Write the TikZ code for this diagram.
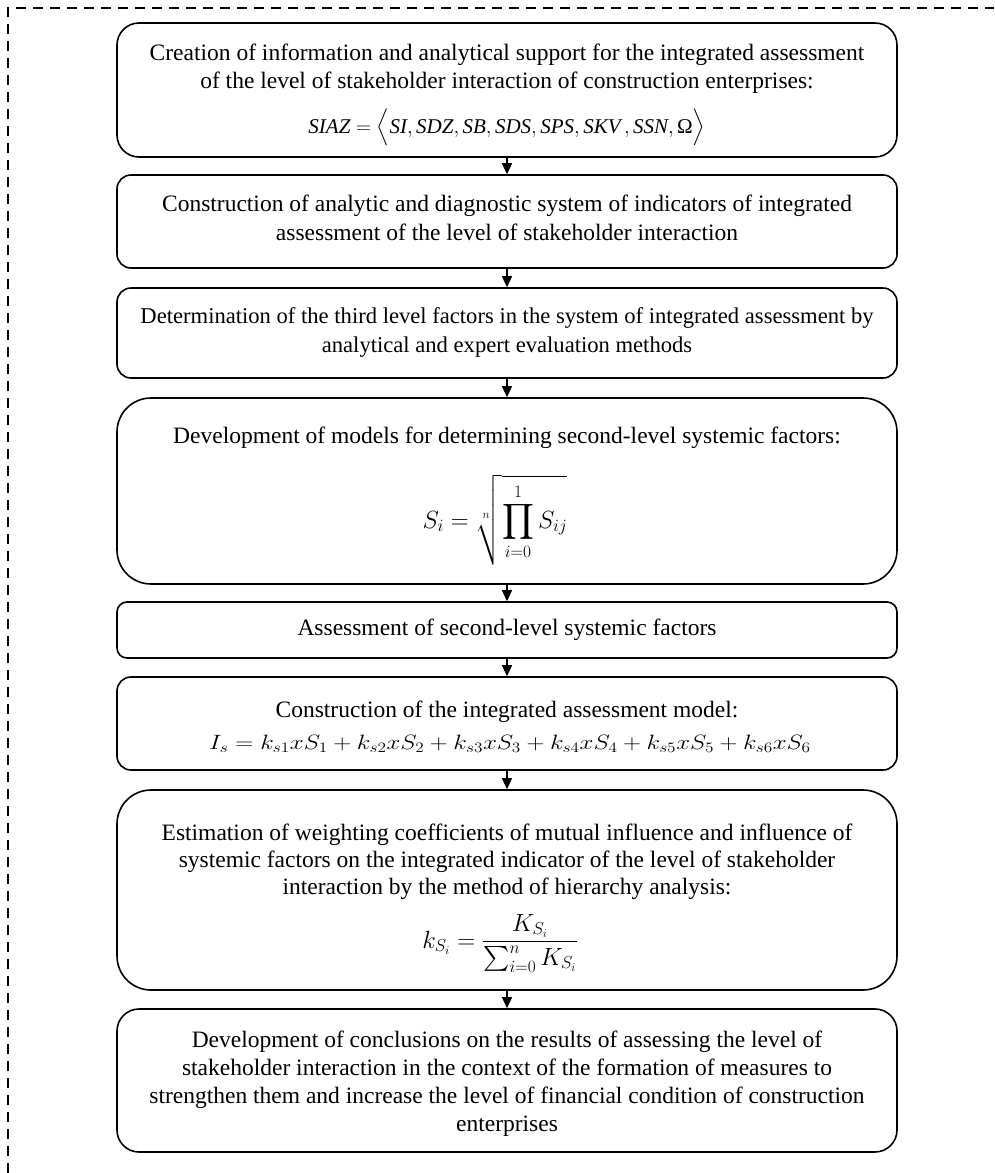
\documentclass[tikz,border=0pt]{standalone}
\usepackage{amsmath}
\usepackage{graphicx}
\usepackage{fontspec}
\setmainfont{Liberation Serif}
\usetikzlibrary{arrows.meta}
\begin{document}
\begin{tikzpicture}[x=1pt,y=-1pt,
  box/.style={draw, line width=1.6pt, rounded corners=#1, minimum width=780pt, inner sep=0pt},
  box/.default=14pt,
  txt/.style={align=center, inner sep=0pt, anchor=north},
  frm/.style={inner sep=0pt},
  arr/.style={-{Triangle[length=11pt,width=10pt]}, line width=1.3pt},
  frame/.style={dash pattern=on 10pt off 7pt, line width=1.2pt}]
\useasboundingbox (0,0) rectangle (994,1173);
\draw[frame] (8,1173) -- (8,8) -- (994,8);

% boxes
\node[box=22pt, minimum height=134pt] (b1) at (507,90) {};
\node[box=14pt, minimum height=93pt] (b2) at (507,221.5) {};
\node[box=14pt, minimum height=90pt] (b3) at (507,333) {};
\node[box=34pt, minimum height=186pt] (b4) at (507,491) {};
\node[box=10pt, minimum height=56pt] (b5) at (507,630) {};
\node[box=14pt, minimum height=93pt] (b6) at (507,723.5) {};
\node[box=34pt, minimum height=200pt] (b7) at (507,890) {};
\node[box=22pt, minimum height=143pt] (b8) at (507,1080.5) {};

% texts
\node[txt, font=\fontsize{23.5}{28}\selectfont] (t1) at (507,44) {Creation of information and analytical support for the integrated assessment\\of the level of stakeholder interaction of construction enterprises:};
\node[frm, anchor=base, font=\fontsize{21}{26}\selectfont] (f1) at (507,133) {$\textit{SIAZ} = \Bigl\langle \textit{SI}, \textit{SDZ}, \textit{SB}, \textit{SDS}, \textit{SPS}, \textit{SKV}\,, \textit{SSN}, \textup{Ω}\Bigr\rangle$};

\node[txt, font=\fontsize{23.5}{29}\selectfont] (t2) at (507,195) {Construction of analytic and diagnostic system of indicators of integrated\\assessment of the level of stakeholder interaction};

\node[txt, font=\fontsize{22.6}{29}\selectfont] (t3) at (507,307.5) {Determination of the third level factors in the system of integrated assessment by\\analytical and expert evaluation methods};

\node[txt, font=\fontsize{23.5}{28}\selectfont] (t4) at (507,427) {Development of models for determining second-level systemic factors:};
\node[frm, font=\fontsize{26}{30}\selectfont] (f4) at (495,520) {$S_i = \sqrt[n]{\displaystyle\prod_{i=0}^{1} S_{ij}}$};

\node[txt, font=\fontsize{23.5}{28}\selectfont] (t5) at (507,619) {Assessment of second-level systemic factors};

\node[txt, font=\fontsize{23.5}{28}\selectfont] (t6) at (507,701) {Construction of the integrated assessment model:};
\node[frm, anchor=base, font=\fontsize{22}{26}\selectfont] (f6) at (510,749) {\scalebox{1.2}[1]{$I_s = k_{s1}xS_1 + k_{s2}xS_2 + k_{s3}xS_3 + k_{s4}xS_4 + k_{s5}xS_5 + k_{s6}xS_6$}};

\node[txt, font=\fontsize{23.5}{27}\selectfont] (t7) at (507,824) {Estimation of weighting coefficients of mutual influence and influence of\\systemic factors on the integrated indicator of the level of stakeholder\\interaction by the method of hierarchy analysis:};
\node[frm, anchor=base, font=\fontsize{25}{28}\selectfont] (f7) at (500,948) {$k_{S_i} = \dfrac{K_{S_i}}{\sum_{i=0}^{n} K_{S_i}}$};

\node[txt, font=\fontsize{23.5}{28}\selectfont] (t8) at (507,1031) {Development of conclusions on the results of assessing the level of\\stakeholder interaction in the context of the formation of measures to\\strengthen them and increase the level of financial condition of construction\\enterprises};

% arrows
\draw[arr] (b1.south) -- (b2.north);
\draw[arr] (b2.south) -- (b3.north);
\draw[arr] (b3.south) -- (b4.north);
\draw[arr] (b4.south) -- (b5.north);
\draw[arr] (b5.south) -- (b6.north);
\draw[arr] (b6.south) -- (b7.north);
\draw[arr] (b7.south) -- (b8.north);
\end{tikzpicture}
\end{document}
